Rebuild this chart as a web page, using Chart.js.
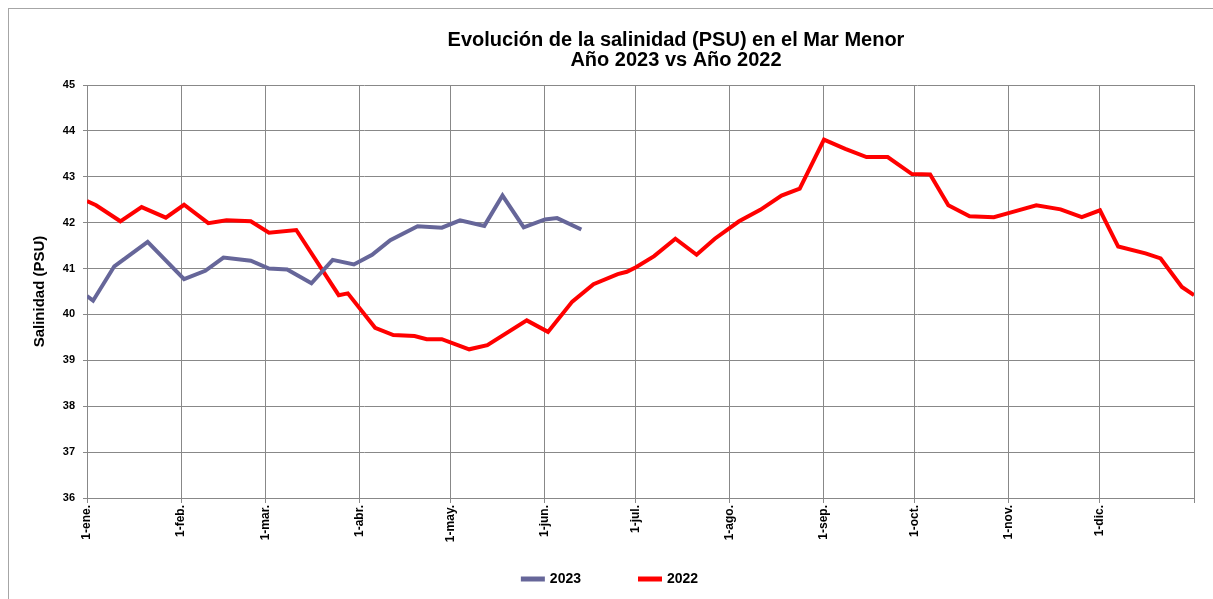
<!DOCTYPE html>
<html lang="es">
<head>
<meta charset="utf-8">
<title>Salinidad Mar Menor</title>
<script src="https://cdn.jsdelivr.net/npm/chart.js@4.4.0/dist/chart.umd.min.js"></script>
<style>
    body { margin: 0; background: #fff; overflow: hidden; }
    #wrap { position: relative; width: 1213px; height: 599px; }
    #frame { position: absolute; left: 8px; top: 8px; width: 1230px; height: 620px; border: 1px solid #a6a6a6; pointer-events: none; }
</style>
</head>
<body>
<div id="wrap">
    <canvas id="salinidad" width="1213" height="599"></canvas>
    <div id="frame"></div>
</div>

<script type="text/javascript">

    // dia del año (0 = 1 de enero) y salinidad en PSU
    const days2023 = [0, 2, 9, 20, 32, 39, 45, 54, 60, 66, 74, 81, 88, 94, 100, 109, 117, 123, 131, 137, 144, 151, 155, 163];
    const salinity2023 = [40.40, 40.30, 41.05, 41.58, 40.77, 40.95, 41.24, 41.17, 41.00, 40.98, 40.68, 41.19, 41.09, 41.30, 41.62, 41.92, 41.89, 42.05, 41.93, 42.59, 41.90, 42.07, 42.10, 41.85];

    const days2022 = [0, 3, 11, 18, 26, 32, 40, 46, 54, 60, 69, 83, 86, 95, 101, 108, 112, 117, 126, 132, 145, 152, 160, 167, 175, 178, 181, 187, 194, 201, 207, 215, 222, 229, 235, 243, 250, 257, 264, 272, 278, 284, 291, 299, 305, 313, 321, 328, 334, 340, 349, 354, 361, 365];
    const salinity2022 = [42.47, 42.38, 42.03, 42.34, 42.11, 42.39, 41.99, 42.05, 42.03, 41.78, 41.84, 40.42, 40.46, 39.71, 39.55, 39.53, 39.46, 39.46, 39.24, 39.33, 39.87, 39.62, 40.28, 40.66, 40.88, 40.93, 41.03, 41.27, 41.65, 41.30, 41.65, 42.03, 42.28, 42.59, 42.74, 43.81, 43.61, 43.43, 43.43, 43.06, 43.05, 42.38, 42.14, 42.12, 42.23, 42.38, 42.29, 42.12, 42.27, 41.48, 41.33, 41.22, 40.60, 40.42];

    const monthDays = [0, 31, 59, 90, 120, 151, 181, 212, 243, 273, 304, 334, 365];
    const monthLabels = ["1-ene.", "1-feb.", "1-mar.", "1-abr.", "1-may.", "1-jun.", "1-jul.", "1-ago.", "1-sep.", "1-oct.", "1-nov.", "1-dic.", ""];

    const titleLines = ["Evolución de la salinidad (PSU) en el Mar Menor", "Año 2023 vs Año 2022"];

    const toPoints = (xs, ys) => xs.map((x, i) => ({x: x, y: ys[i]}));

    Chart.defaults.font.family = "'Liberation Sans', Arial, sans-serif";
    Chart.defaults.color = "#000";

    const gridColor = "#888888";

    // titulo de dos lineas, centrado como en la hoja de Excel original
    const titlePlugin = {
        id: "excelTitle",
        afterDraw(chart) {
            const ctx = chart.ctx;
            ctx.save();
            ctx.font = "bold 20px 'Liberation Sans', Arial, sans-serif";
            ctx.fillStyle = "#000";
            ctx.textAlign = "center";
            ctx.textBaseline = "alphabetic";
            ctx.fillText(titleLines[0], 676, 46);
            ctx.fillText(titleLines[1], 676, 66);
            ctx.restore();
        }
    };

    // la caja de la leyenda se alarga hacia arriba para que los elementos queden a su altura
    const legendShift = {
        id: "legendShift",
        afterLayout(chart) {
            chart.legend.top -= 33;
        }
    };

    new Chart("salinidad", {
        type: 'line',
        data: {
            datasets: [
                {
                    label: "2023",
                    data: toPoints(days2023, salinity2023),
                    borderColor: "#666699",
                    backgroundColor: "#666699",
                    borderWidth: 4,
                    pointRadius: 0,
                    tension: 0
                },
                {
                    label: "2022",
                    data: toPoints(days2022, salinity2022),
                    borderColor: "#ff0000",
                    backgroundColor: "#ff0000",
                    borderWidth: 4,
                    pointRadius: 0,
                    tension: 0
                }
            ]
        },
        options: {
            responsive: false,
            animation: false,
            layout: {padding: {top: 85, left: 27, right: 19, bottom: 0}},
            plugins: {
                legend: {
                    display: true,
                    position: 'bottom',
                    maxHeight: 53,
                    labels: {
                        boxWidth: 20,
                        boxHeight: 1,
                        padding: 59,
                        font: {size: 14, weight: 'bold'}
                    }
                },
                title: {display: false},
                tooltip: {enabled: false}
            },
            scales: {
                x: {
                    type: 'linear',
                    min: 0,
                    max: 365,
                    afterBuildTicks: scale => {
                        scale.ticks = monthDays.map(v => ({value: v}));
                    },
                    afterFit: scale => {
                        scale.height = 48;
                    },
                    ticks: {
                        autoSkip: false,
                        minRotation: 90,
                        maxRotation: 90,
                        padding: 2,
                        font: {size: 12, weight: 'bold'},
                        callback: v => monthLabels[monthDays.indexOf(v)]
                    },
                    grid: {color: gridColor, tickColor: gridColor, tickLength: 5, lineWidth: 1},
                    border: {color: gridColor}
                },
                y: {
                    min: 36,
                    max: 45,
                    ticks: {
                        stepSize: 1,
                        padding: 8,
                        font: {size: 11, weight: 'bold'}
                    },
                    afterFit: scale => {
                        scale.width = 60;
                    },
                    title: {
                        display: true,
                        text: "Salinidad (PSU)",
                        font: {size: 15, weight: 'bold'}
                    },
                    grid: {color: gridColor, tickColor: gridColor, tickLength: 4, lineWidth: 1},
                    border: {color: gridColor}
                }
            }
        },
        plugins: [titlePlugin, legendShift]
    });

</script>
</body>
</html>
